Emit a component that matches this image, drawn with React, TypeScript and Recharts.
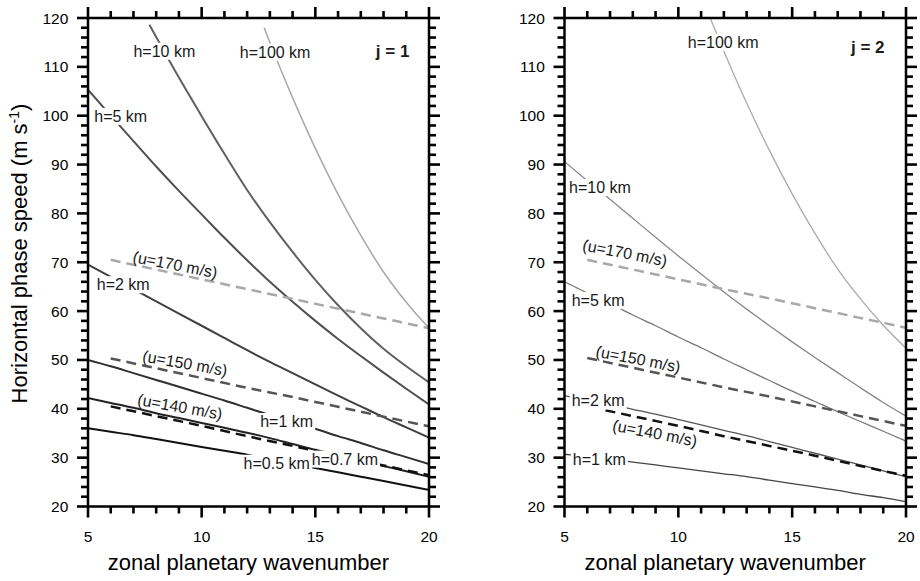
import { LineChart, Line, XAxis, YAxis, ReferenceDot } from 'recharts';

const FONT = '"Liberation Sans", Arial, Helvetica, sans-serif';

const WAVENUMBER = [5, 6, 7, 8, 9, 10, 11, 12, 13, 14, 15, 16, 17, 18, 19, 20];
const X_TICKS = WAVENUMBER;
const Y_TICKS = Array.from({ length: 51 }, (_, i) => 20 + i * 2);

// j = 1 panel, solid lines: equivalent depth h
const j1H05 = [36.0, 35.3, 34.6, 33.8, 33.0, 32.2, 31.4, 30.6, 29.7, 28.8, 27.9, 27.0, 26.1, 25.2, 24.3, 23.4];
const j1H07 = [42.2, 41.2, 40.2, 39.1, 38.1, 37.1, 36.1, 35.1, 34.0, 32.8, 31.6, 30.5, 29.4, 28.3, 27.2, 26.1];
const j1H1 = [50.0, 48.7, 47.3, 45.9, 44.5, 43.1, 41.7, 40.2, 38.7, 37.3, 35.9, 34.4, 33.0, 31.5, 30.1, 28.7];
const j1H2 = [69.5, 67.0, 64.5, 62.0, 59.5, 57.0, 54.5, 52.0, 49.6, 47.3, 45.0, 42.7, 40.5, 38.3, 36.2, 34.1];
const j1H5 = [105.3, 100.0, 94.8, 89.6, 84.6, 79.8, 75.0, 70.4, 66.0, 61.9, 58.0, 54.3, 50.8, 47.4, 44.1, 40.9];
const j1H10X = [7.7, 8, 9, 10, 11, 12, 13, 14, 15, 16, 17, 18, 19, 20];
const j1H10 = [118.6, 116.1, 107.8, 99.9, 92.2, 84.8, 78.2, 72.1, 66.4, 61.2, 56.5, 52.3, 48.7, 45.4];
const j1H100X = [12.75, 13, 14, 15, 16, 17, 18, 19, 20];
const j1H100 = [118.0, 115.0, 103.7, 93.3, 83.9, 75.5, 68.0, 61.8, 56.5];

// dashed lines: background wind u
const U_X = [6, 8, 10, 12, 14, 16, 18, 20];
const j1U140 = [40.5, 38.5, 36.5, 34.4, 32.4, 30.4, 28.4, 26.4];
const j1U150 = [50.3, 48.3, 46.3, 44.3, 42.4, 40.4, 38.4, 36.4];
const j1U170 = [70.5, 68.5, 66.5, 64.5, 62.5, 60.5, 58.5, 56.5];

// j = 2 panel
const j2H1 = [30.7, 30.2, 29.7, 29.1, 28.5, 27.9, 27.3, 26.7, 26.1, 25.4, 24.7, 24.0, 23.3, 22.5, 21.8, 21.0];
const j2H2 = [42.7, 41.8, 40.9, 39.9, 38.9, 37.8, 36.7, 35.6, 34.5, 33.3, 32.1, 30.9, 29.7, 28.5, 27.3, 26.1];
const j2H5 = [66.0, 63.7, 61.5, 59.2, 57.0, 54.7, 52.5, 50.2, 48.0, 45.8, 43.6, 41.5, 39.4, 37.4, 35.4, 33.4];
const j2H10 = [90.6, 86.7, 82.9, 79.0, 75.1, 71.3, 67.6, 63.9, 60.4, 57.0, 53.7, 50.5, 47.4, 44.3, 41.3, 38.5];
const j2H100X = [11.4, 12, 13, 14, 15, 16, 17, 18, 19, 20];
const j2H100 = [120.0, 113.2, 102.6, 92.9, 84.0, 75.9, 68.6, 62.5, 57.1, 52.4];
const j2U140X = [6.8, 8, 10, 12, 14, 16, 18, 20];
const j2U140 = [39.7, 38.5, 36.5, 34.4, 32.4, 30.4, 28.3, 26.3];
const j2U150 = [50.4, 48.4, 46.4, 44.4, 42.5, 40.5, 38.5, 36.5];
const j2U170 = [70.5, 68.5, 66.5, 64.5, 62.6, 60.6, 58.6, 56.6];

const pts = (xs: number[], ys: number[]) => xs.map((x, i) => ({ x, v: ys[i] }));

type Series = { name: string; xs: number[]; ys: number[]; color: string; width: number; dash?: string };
type Lbl = { text: string; x: number; y: number; angle?: number; box?: boolean; bold?: boolean };

const DASH = '10 6';

const j1Series: Series[] = [
  { name: 'h=100 km', xs: j1H100X, ys: j1H100, color: '#a8a8a8', width: 1.5 },
  { name: 'h=10 km', xs: j1H10X, ys: j1H10, color: '#606060', width: 2 },
  { name: 'h=5 km', xs: WAVENUMBER, ys: j1H5, color: '#505050', width: 2 },
  { name: 'h=2 km', xs: WAVENUMBER, ys: j1H2, color: '#404040', width: 2 },
  { name: 'h=1 km', xs: WAVENUMBER, ys: j1H1, color: '#303030', width: 2 },
  { name: 'h=0.7 km', xs: WAVENUMBER, ys: j1H07, color: '#222', width: 2 },
  { name: 'h=0.5 km', xs: WAVENUMBER, ys: j1H05, color: '#111', width: 2 },
  { name: 'u=170', xs: U_X, ys: j1U170, color: '#a8a8a8', width: 2.5, dash: DASH },
  { name: 'u=150', xs: U_X, ys: j1U150, color: '#555', width: 2.5, dash: DASH },
  { name: 'u=140', xs: U_X, ys: j1U140, color: '#111', width: 2.5, dash: DASH },
];

const j2Series: Series[] = [
  { name: 'h=100 km', xs: j2H100X, ys: j2H100, color: '#aaa', width: 1.3 },
  { name: 'h=10 km', xs: WAVENUMBER, ys: j2H10, color: '#888', width: 1.3 },
  { name: 'h=5 km', xs: WAVENUMBER, ys: j2H5, color: '#777', width: 1.3 },
  { name: 'h=2 km', xs: WAVENUMBER, ys: j2H2, color: '#555', width: 1.3 },
  { name: 'h=1 km', xs: WAVENUMBER, ys: j2H1, color: '#444', width: 1.3 },
  { name: 'u=170', xs: U_X, ys: j2U170, color: '#a8a8a8', width: 2.5, dash: DASH },
  { name: 'u=150', xs: U_X, ys: j2U150, color: '#555', width: 2.5, dash: DASH },
  { name: 'u=140', xs: j2U140X, ys: j2U140, color: '#111', width: 2.5, dash: DASH },
];

const j1Labels: Lbl[] = [
  { text: 'h=10 km', x: 8.36, y: 113.2, box: true },
  { text: 'h=100 km', x: 13.23, y: 113, box: true },
  { text: 'j = 1', x: 18.4, y: 113.1, bold: true },
  { text: 'h=5 km', x: 6.44, y: 99.85, box: true },
  { text: '(u=170 m/s)', x: 8.83, y: 69.5, angle: 11 },
  { text: 'h=2 km', x: 6.55, y: 65.4, box: true },
  { text: '(u=150 m/s)', x: 9.27, y: 49.3, angle: 10 },
  { text: '(u=140 m/s)', x: 9.05, y: 40.4, angle: 10 },
  { text: 'h=1 km', x: 13.74, y: 37.4, box: true },
  { text: 'h=0.5 km', x: 13.3, y: 28.85, box: true },
  { text: 'h=0.7 km', x: 16.3, y: 29.7, box: true },
];

const j2Labels: Lbl[] = [
  { text: 'h=100 km', x: 11.97, y: 115, box: true },
  { text: 'j = 2', x: 18.32, y: 114, bold: true },
  { text: 'h=10 km', x: 6.56, y: 85.3, box: true },
  { text: '(u=170 m/s)', x: 7.65, y: 71.9, angle: 11 },
  { text: 'h=5 km', x: 6.48, y: 62.15, box: true },
  { text: '(u=150 m/s)', x: 8.24, y: 50.15, angle: 11 },
  { text: 'h=2 km', x: 6.48, y: 41.6, box: true },
  { text: '(u=140 m/s)', x: 8.97, y: 35.0, angle: 11 },
  { text: 'h=1 km', x: 6.53, y: 29.67, box: true },
];

const CHAR_W: Record<string, number> = { h: 556, '=': 584, '.': 278, ' ': 278, k: 500, m: 833 };
const textWidth = (s: string, size: number) =>
  s.split('').reduce((a, c) => a + (CHAR_W[c] ?? 556), 0) * size / 1000;

const FRAME = '#000';
const MAJOR = 11;
const MINOR = 7;
const TICK_FONT = 15.5;

// one outward tick mark plus an optional number
type Side = 'bottom' | 'top' | 'left' | 'right';
const tickShape = (side: Side, value: number, major: boolean, labelled: boolean) => (p: any) => {
  const len = major ? MAJOR : MINOR;
  const cx = p.cx;
  const cy = p.cy;
  let d = `M${cx},${cy}v${len}`;
  if (side === 'top') d = `M${cx},${cy}v${-len}`;
  if (side === 'left') d = `M${cx},${cy}h${-len}`;
  if (side === 'right') d = `M${cx},${cy}h${len}`;
  return (
    <g>
      <path d={d} stroke={FRAME} strokeWidth={2.6} fill="none" />
      {labelled && side === 'bottom' && (
        <text x={cx} y={cy + 35.7} textAnchor="middle" fontSize={TICK_FONT} fill="#000">{value}</text>
      )}
      {labelled && side === 'left' && (
        <text x={cx - 19.7} y={cy + 5.5} textAnchor="end" fontSize={TICK_FONT} fill="#000">{value}</text>
      )}
    </g>
  );
};

function XTitle(p: any) {
  const vb = p.viewBox || {};
  return (
    <text x={vb.x + vb.width / 2 - 10} y={vb.y + 63.5} textAnchor="middle" fontSize={22} fill="#000">
      zonal planetary wavenumber
    </text>
  );
}

function YTitle() {
  return (
    <text x={27} y={253.5} transform="rotate(-90 27 253.5)" textAnchor="middle" fontSize={22} fill="#000">
      Horizontal phase speed (m s<tspan fontSize={14} dy={-8}>-1</tspan><tspan dy={8}>)</tspan>
    </text>
  );
}

function LineLabel(l: Lbl) {
  return (p: any) => {
    const size = l.bold ? 17 : 16;
    const w = textWidth(l.text, size);
    return (
      <g transform={l.angle ? `rotate(${l.angle} ${p.cx} ${p.cy})` : undefined}>
        {l.box && <rect x={p.cx - w / 2 - 2} y={p.cy - 8.5} width={w + 4} height={17} fill="#fff" />}
        <text
          x={p.cx}
          y={p.cy}
          textAnchor="middle"
          dominantBaseline="central"
          fontSize={size}
          fontWeight={l.bold ? 'bold' : 'normal'}
          fill="#1a1a1a"
        >
          {l.text}
        </text>
      </g>
    );
  };
}

function Panel({ series, labels, leftW, rightW, yTitle }: {
  series: Series[]; labels: Lbl[]; leftW: number; rightW: number; yTitle?: boolean;
}) {
  const axisLine = { stroke: FRAME, strokeWidth: 2.5 };
  return (
    <LineChart width={460} height={581} margin={{ top: 0, right: 0, bottom: 0, left: 0 }}>
      <XAxis
        xAxisId="top" orientation="top" type="number" domain={[5, 20]} allowDataOverflow
        height={18} tick={false} tickLine={false} axisLine={axisLine}
      />
      <XAxis
        dataKey="x" type="number" domain={[5, 20]} allowDataOverflow
        height={74.5} tick={false} tickLine={false} axisLine={axisLine} label={{ content: XTitle }}
      />
      <YAxis
        type="number" domain={[20, 120]} allowDataOverflow
        width={leftW} tick={false} tickLine={false} axisLine={axisLine}
        label={yTitle ? { content: YTitle } : undefined}
      />
      <YAxis
        yAxisId="right" orientation="right" type="number" domain={[20, 120]} allowDataOverflow
        width={rightW} tick={false} tickLine={false} axisLine={axisLine}
      />
      {series.map((s) => (
        <Line
          key={s.name}
          data={pts(s.xs, s.ys)}
          dataKey="v"
          type="monotone"
          stroke={s.color}
          strokeWidth={s.width}
          strokeDasharray={s.dash}
          dot={false}
          activeDot={false}
          isAnimationActive={false}
        />
      ))}
      {X_TICKS.map((t) => (
        <ReferenceDot key={`b${t}`} x={t} y={20} r={0} ifOverflow="visible"
          shape={tickShape('bottom', t, t % 5 === 0, t % 5 === 0)} />
      ))}
      {X_TICKS.map((t) => (
        <ReferenceDot key={`t${t}`} x={t} y={120} r={0} ifOverflow="visible"
          shape={tickShape('top', t, t % 5 === 0, false)} />
      ))}
      {Y_TICKS.map((t) => (
        <ReferenceDot key={`l${t}`} x={5} y={t} r={0} ifOverflow="visible"
          shape={tickShape('left', t, t % 10 === 0, t % 10 === 0)} />
      ))}
      {Y_TICKS.map((t) => (
        <ReferenceDot key={`r${t}`} x={20} y={t} r={0} ifOverflow="visible"
          shape={tickShape('right', t, t % 10 === 0, false)} />
      ))}
      {labels.map((l) => (
        <ReferenceDot key={l.text} x={l.x} y={l.y} r={0} ifOverflow="visible" shape={LineLabel(l)} />
      ))}
    </LineChart>
  );
}

export default function App() {
  return (
    <div
      style={{
        position: 'absolute', left: 0, top: 0, width: 920, height: 581,
        background: '#fff', display: 'flex', fontFamily: FONT,
      }}
    >
      <Panel series={j1Series} labels={j1Labels} leftW={88} rightW={31} yTitle />
      <Panel series={j2Series} labels={j2Labels} leftW={104.5} rightW={14} />
    </div>
  );
}
